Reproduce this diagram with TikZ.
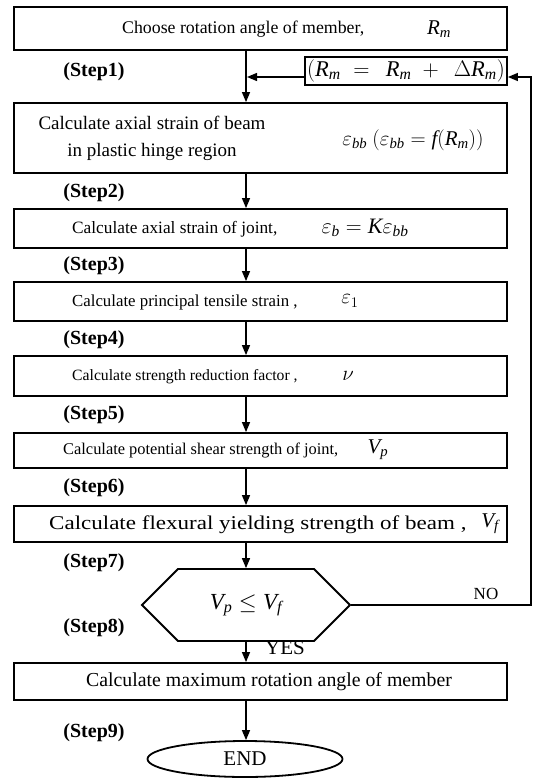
\RequirePackage{fix-cm}
\documentclass[tikz,border=0pt]{standalone}
\usepackage{fontspec}
\setmainfont{Liberation Serif}
\usetikzlibrary{arrows.meta,positioning,shapes.geometric,shapes.misc}
\newcommand{\fsz}[1]{\fontsize{#1}{#1}\selectfont}
\newcommand{\Rm}{\mathit{R}_{\mathit{m}}}

\begin{document}
\begin{tikzpicture}[x=1pt,y=-1pt,
      b/.style={draw,line width=1.8pt,minimum width=493pt,inner sep=0pt},
      t/.style={anchor=west,inner sep=0pt},
      m/.style={inner sep=0pt},
      lab/.style={font=\fsz{20}\bfseries,inner sep=0pt},
      a/.style={line width=1.3pt,-{Triangle[length=10pt,width=8pt]}}]
  \useasboundingbox (0,0) rectangle (535,778);
  \coordinate (trunk) at (246,0);
  % boxes
  \node[b,minimum height=43pt] (b1) at (260.5,28.5) {};
  \node[t,font=\fsz{17.8}] (b1t) at (122,29) {Choose rotation angle of member,};
  \node[m,font=\fsz{21}] (b1m) at (439,29) {$\Rm$};
  \node[draw,line width=1.8pt,minimum width=202pt,minimum height=28pt,inner sep=0pt,font=\fsz{22.5}]
    (inc) at (406,71) {$(\Rm \;=\;\, \Rm \;+\;\, \Delta\Rm)$};
  \node[b,minimum height=70pt] (b2) at (260.5,138) {};
  \node[m,align=center,font=\fontsize{19}{27}\selectfont] (b2t) at (152,138.5)
    {Calculate axial strain of beam\\in plastic hinge region};
  \node[m,font=\fsz{21}] (b2m) at (413,140)
    {$\varepsilon_{\mathit{bb}}\ \bigl(\varepsilon_{\mathit{bb}} = \mathit{f}(\Rm)\bigr)$};
  \node[b,minimum height=39pt] (b3) at (260.5,228.5) {};
  \node[t,font=\fsz{17.3}] (b3t) at (72,229) {Calculate axial strain of joint,};
  \node[m,font=\fsz{22}] (b3m) at (365,228)
    {$\varepsilon_{\mathit{b}} = \mathit{K}\varepsilon_{\mathit{bb}}$};
  \node[b,minimum height=39pt] (b4) at (260.5,301.5) {};
  \node[t,font=\fsz{16.8}] (b4t) at (72,302) {Calculate principal tensile strain ,};
  \node[m,font=\fsz{21}] (b4m) at (350,301) {$\varepsilon_1$};
  \node[b,minimum height=40pt] (b5) at (260.5,376) {};
  \node[t,font=\fsz{15.7}] (b5t) at (72,376.5) {Calculate strength reduction factor ,};
  \node[m,font=\fsz{21}] (b5m) at (348,376) {$\nu$};
  \node[b,minimum height=35pt] (b6) at (260.5,450.5) {};
  \node[t,font=\fsz{16.4}] (b6t) at (63,450.5) {Calculate potential shear strength of joint,};
  \node[m,font=\fsz{21}] (b6m) at (378,450) {$\mathit{V}_{\mathit{p}}$};
  \node[b,minimum height=36pt] (b7) at (260.5,524) {};
  \node[t,font=\fsz{19.5}\addfontfeatures{FakeStretch=1.18}] (b7t) at (49,524.5)
    {Calculate flexural yielding strength of beam ,};
  \node[m,font=\fsz{21}] (b7m) at (490,524) {$\mathit{V}_{\mathit{f}}$};
  \node[chamfered rectangle,chamfered rectangle xsep=24pt,chamfered rectangle ysep=25pt,
    draw,line width=1.8pt,minimum width=208pt,minimum height=50pt,inner sep=0pt,font=\fsz{23}]
    (dec) at (246,605) {$\mathit{V}_{\mathit{p}} \le \mathit{V}_{\mathit{f}}$};
  \node[b,minimum height=37pt] (b8) at (260.5,681.5) {};
  \node[m,font=\fsz{19.8}] (b8t) at (269,682) {Calculate maximum rotation angle of member};
  \node[ellipse,draw,line width=1.8pt,minimum width=195pt,minimum height=36pt,inner sep=0pt,
    font=\fsz{21}] (fin) at (245,759) {END};
  \node[m,font=\fsz{21}] (yes) at (285,648) {YES};
  \node[m,font=\fsz{17}] (no) at (486,594) {NO};
  \foreach \k/\y in {1/72,2/193,3/266,4/340,5/415,6/488,7/563,8/628,9/733}
    \node[lab] (st\k) at (94,\y) {(Step\k)};
  % connectors
  \foreach \u/\v in {b1/b2,b2/b3,b3/b4,b4/b5,b5/b6,b6/b7,b7/dec,dec/b8,b8/fin}
    \draw[a] (\u.south -| trunk) -- (\v.north -| trunk);
  \coordinate (join) at (247,77);
  \coordinate (loop) at (531,77);
  \draw[a] ([yshift=-6pt]inc.west) -- (join);
  \draw[a] (dec.east) -| (loop) -- ([yshift=-6pt]inc.east);
\end{tikzpicture}
\end{document}
